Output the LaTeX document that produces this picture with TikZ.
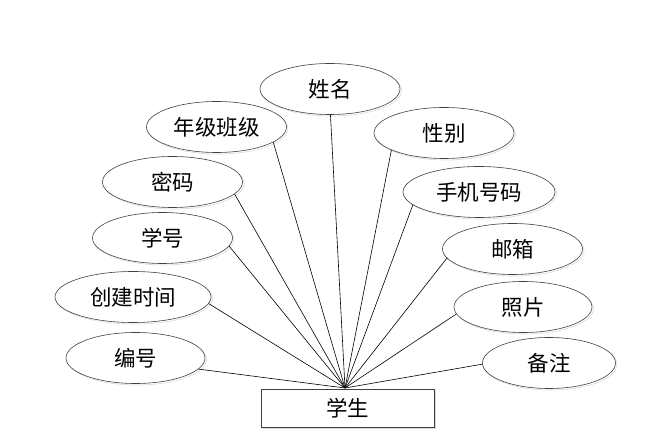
\documentclass[tikz,border=0pt]{standalone}
\usepackage{fontspec}
\newfontfamily\cjk{Noto Sans CJK SC}
\usetikzlibrary{shapes.geometric,shadows}
\begin{document}
\begin{tikzpicture}[x=1pt,y=1pt,
  attr/.style={ellipse, draw=black!75, line width=0.6pt, fill=white, inner sep=0pt,
    minimum height=51pt, font=\cjk\fontsize{21.5}{21.5}\selectfont,
    general shadow={draw=black!15, fill=none, shadow xshift=1.5pt, shadow yshift=-1.5pt}},
  ent/.style={rectangle, draw=black!75, line width=0.6pt, fill=white, inner sep=0pt,
    minimum width=173pt, minimum height=38pt, font=\cjk\fontsize{21.5}{21.5}\selectfont,
    general shadow={draw=black!15, fill=none, shadow xshift=1.5pt, shadow yshift=-1.5pt}},
  link/.style={draw=black, line width=0.6pt}]
\useasboundingbox (0,0) rectangle (654,444);
\node[ent] (st) at (347.5,36) {学生};
\coordinate (c) at (345,56);
\node[attr, minimum width=140pt] (xm) at (330,355) {姓名};
\node[attr, minimum width=140pt] (nj) at (216.5,317) {年级班级};
\node[attr, minimum width=140pt] (xb) at (444,311) {性别};
\node[attr, minimum width=140pt] (mm) at (172.5,262) {密码};
\node[attr, minimum width=152pt] (sj) at (479,252) {手机号码};
\node[attr, minimum width=140pt] (xh) at (162.5,206) {学号};
\node[attr, minimum width=140pt] (yx) at (512.5,195) {邮箱};
\node[attr, minimum width=156pt] (cj) at (133,147) {创建时间};
\node[attr, minimum width=138pt] (zp) at (523,137) {照片};
\node[attr, minimum width=139pt] (bh) at (135.5,86) {编号};
\node[attr, minimum width=133pt] (bz) at (549,81) {备注};
\foreach \n/\a in {xm/-89,nj/-15,mm/-11,xh/-7,cj/-5,bh/-10.6,
                   xb/-162.7,sj/-169.3,yx/-172.4,zp/-174.6,bz/-179}
  \draw[link] (\n.\a) -- (c);
\end{tikzpicture}
\end{document}
